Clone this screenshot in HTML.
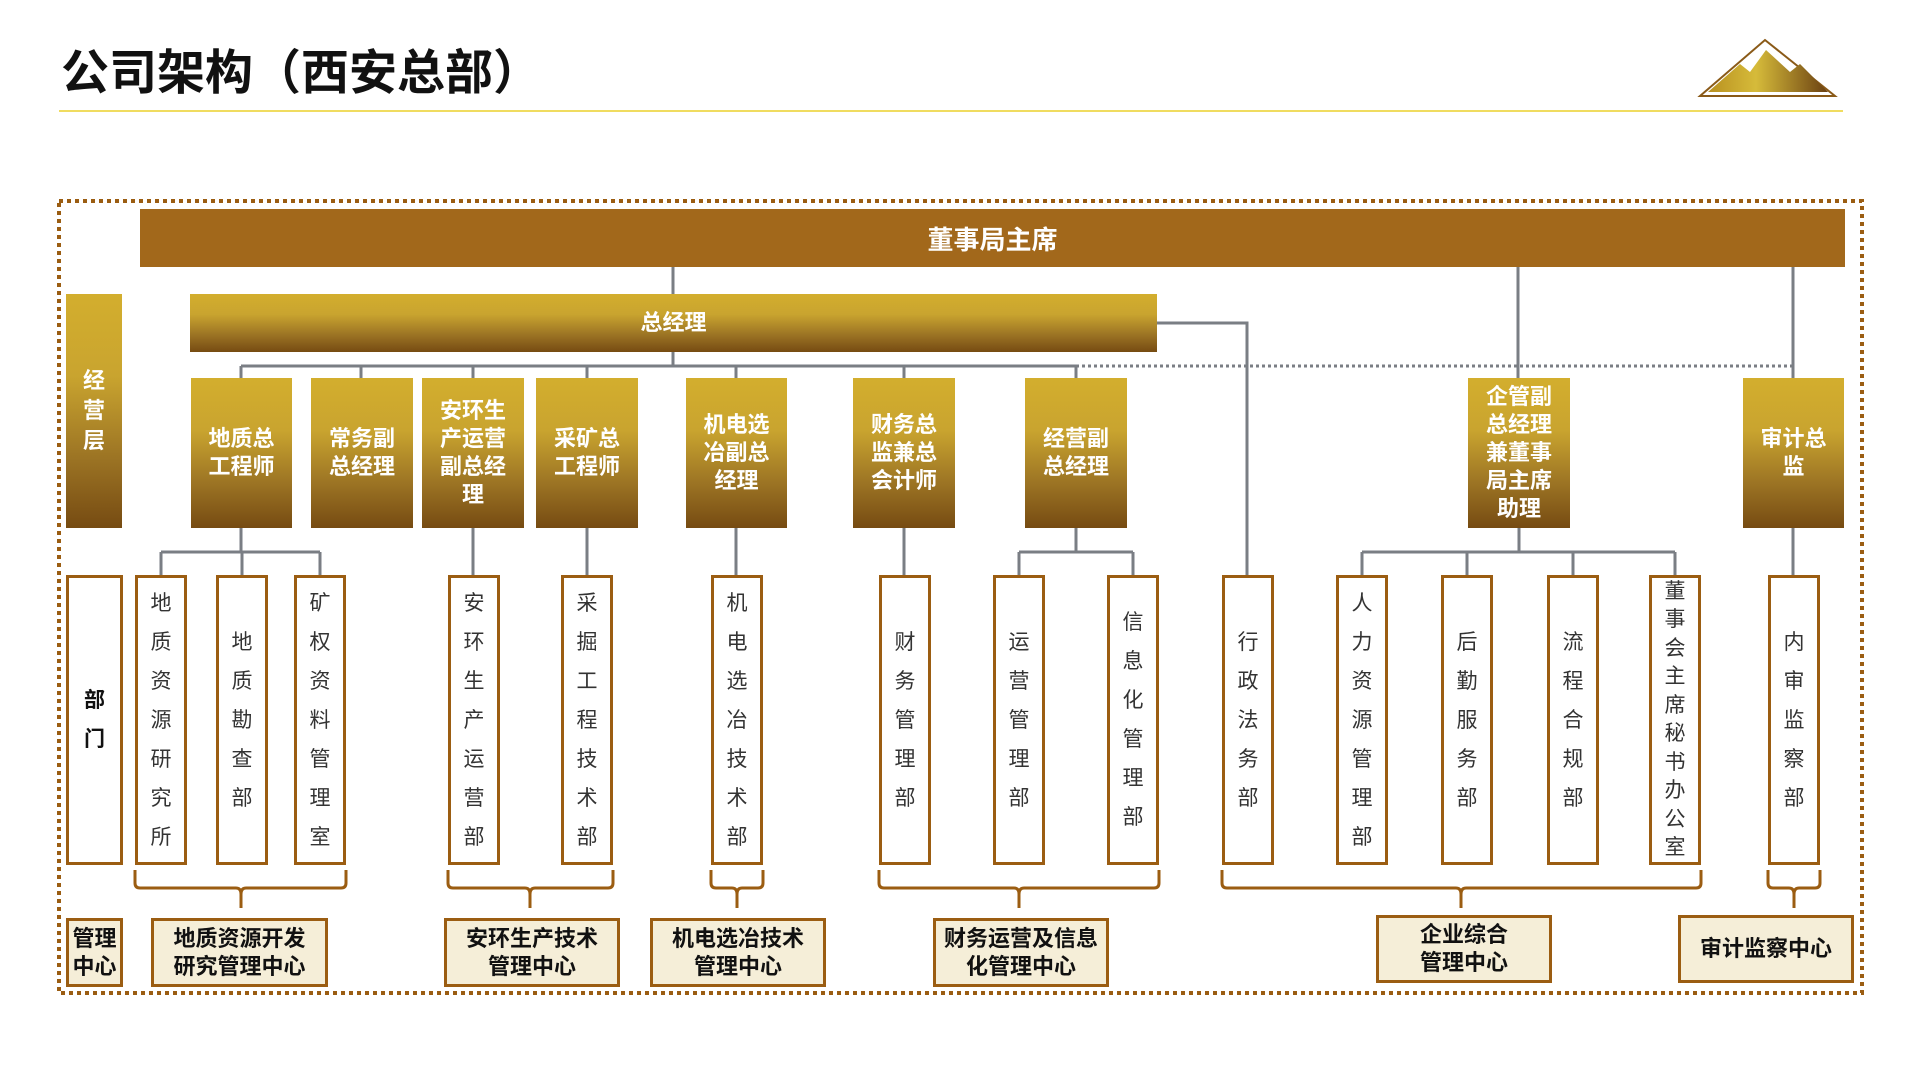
<!DOCTYPE html>
<html><head><meta charset="utf-8">
<style>
*{margin:0;padding:0;box-sizing:border-box}
body{width:1920px;height:1080px;background:#fff;position:relative;overflow:hidden;font-family:"Liberation Sans","Noto Sans CJK SC",sans-serif}
.a{position:absolute}
.g{position:absolute;background:linear-gradient(#d3ae2e 0%,#c9a42f 35%,#9c7424 70%,#764b12 100%);color:#fff;display:flex;align-items:center;justify-content:center;text-align:center;font-size:22px;line-height:28px;font-weight:bold}
.v{position:absolute;top:575px;width:52px;height:290px;border:3px solid #9b5d12;background:#fff;display:flex;align-items:center;justify-content:center;text-align:center;font-size:21px;line-height:39px;color:#333}
.c{position:absolute;border:3px solid #9b5d12;background:#f5eed8;display:flex;align-items:center;justify-content:center;text-align:center;font-size:22px;line-height:28px;font-weight:bold;color:#111}
</style></head><body>
<div class="a" style="left:61px;top:44px;font-size:48px;font-weight:bold;color:#111;line-height:60px">公司架构（西安总部）</div>
<div class="a" style="left:59px;top:110px;width:1784px;height:2px;background:#f0dc60"></div>
<svg class="a" style="left:0;top:0" width="1920" height="1080">
<defs><linearGradient id="m" x1="0" x2="1"><stop offset="0" stop-color="#b89020"/><stop offset=".4" stop-color="#d6bb3a"/><stop offset="1" stop-color="#6a4012"/></linearGradient></defs>
<polygon points="1700,96 1765,40 1835,96" fill="none" stroke="#8a5a18" stroke-width="2"/>
<polygon points="1708,92 1740,64 1750,72 1766,50 1790,72 1800,64 1828,92" fill="url(#m)"/>
<rect x="59" y="201" width="1803" height="792" fill="none" stroke="#9b5d12" stroke-width="4" stroke-dasharray="4 4"/>
<g stroke="#7a7e84" stroke-width="3" fill="none">
<path d="M673 266V294M673 352V366M1157 323H1247V575M1518 266V380M1793 266V380"/>
<path d="M241 366H1076M241 366V380M361 366V380M473 366V380M587 366V380M736 366V380M904 366V380M1076 366V380"/>
<path d="M1076 366H1793" stroke-dasharray="3 3" stroke-width="3"/>
<path d="M241 528V552M161 552H320M161 552V575M242 552V575M320 552V575"/>
<path d="M473 528V575M587 528V575M736 528V575M904 528V575"/>
<path d="M1076 528V552M1019 552H1133M1019 552V575M1133 552V575"/>
<path d="M1519 528V552M1362 552H1675M1362 552V575M1467 552V575M1573 552V575M1675 552V575"/>
<path d="M1793 528V575"/>
</g>
<g stroke="#9b5d12" stroke-width="3" fill="none">
<path d="M135 870V883Q135 888 140 888H236Q241 888 241 894V908M241 894Q241 888 246 888H341Q346 888 346 883V870"/>
<path d="M448 870V883Q448 888 453 888H525Q530 888 530 894V908M530 894Q530 888 535 888H608Q613 888 613 883V870"/>
<path d="M711 870V883Q711 888 716 888H732Q737 888 737 894V908M737 894Q737 888 742 888H758Q763 888 763 883V870"/>
<path d="M879 870V883Q879 888 884 888H1014Q1019 888 1019 894V908M1019 894Q1019 888 1024 888H1154Q1159 888 1159 883V870"/>
<path d="M1222 870V883Q1222 888 1227 888H1456Q1461 888 1461 894V908M1461 894Q1461 888 1466 888H1696Q1701 888 1701 883V870"/>
<path d="M1768 870V883Q1768 888 1773 888H1789Q1794 888 1794 894V908M1794 894Q1794 888 1799 888H1815Q1820 888 1820 883V870"/>
</g>
</svg>
<div class="a" style="left:140px;top:209px;width:1705px;height:58px;background:#a2681b;color:#fff;font-size:26px;font-weight:bold;display:flex;align-items:center;justify-content:center">董事局主席</div>
<div class="g" style="left:66px;top:294px;width:56px;height:234px;line-height:30px">经<br>营<br>层</div>
<div class="g" style="left:190px;top:294px;width:967px;height:58px">总经理</div>
<div class="g" style="left:191px;top:378px;width:101px;height:150px">地质总<br>工程师</div>
<div class="g" style="left:311px;top:378px;width:102px;height:150px">常务副<br>总经理</div>
<div class="g" style="left:422px;top:378px;width:102px;height:150px">安环生<br>产运营<br>副总经<br>理</div>
<div class="g" style="left:536px;top:378px;width:102px;height:150px">采矿总<br>工程师</div>
<div class="g" style="left:686px;top:378px;width:101px;height:150px">机电选<br>冶副总<br>经理</div>
<div class="g" style="left:853px;top:378px;width:102px;height:150px">财务总<br>监兼总<br>会计师</div>
<div class="g" style="left:1025px;top:378px;width:102px;height:150px">经营副<br>总经理</div>
<div class="g" style="left:1468px;top:378px;width:102px;height:150px">企管副<br>总经理<br>兼董事<br>局主席<br>助理</div>
<div class="g" style="left:1743px;top:378px;width:101px;height:150px">审计总<br>监</div>

<div class="v" style="left:66px;width:57px;font-weight:bold;color:#111">部<br>门</div>
<div class="v" style="left:135px">地<br>质<br>资<br>源<br>研<br>究<br>所</div>
<div class="v" style="left:216px">地<br>质<br>勘<br>查<br>部</div>
<div class="v" style="left:294px">矿<br>权<br>资<br>料<br>管<br>理<br>室</div>
<div class="v" style="left:448px">安<br>环<br>生<br>产<br>运<br>营<br>部</div>
<div class="v" style="left:561px">采<br>掘<br>工<br>程<br>技<br>术<br>部</div>
<div class="v" style="left:711px">机<br>电<br>选<br>冶<br>技<br>术<br>部</div>
<div class="v" style="left:879px">财<br>务<br>管<br>理<br>部</div>
<div class="v" style="left:993px">运<br>营<br>管<br>理<br>部</div>
<div class="v" style="left:1107px">信<br>息<br>化<br>管<br>理<br>部</div>
<div class="v" style="left:1222px">行<br>政<br>法<br>务<br>部</div>
<div class="v" style="left:1336px">人<br>力<br>资<br>源<br>管<br>理<br>部</div>
<div class="v" style="left:1441px">后<br>勤<br>服<br>务<br>部</div>
<div class="v" style="left:1547px">流<br>程<br>合<br>规<br>部</div>
<div class="v" style="left:1649px;line-height:28.5px">董<br>事<br>会<br>主<br>席<br>秘<br>书<br>办<br>公<br>室</div>
<div class="v" style="left:1768px">内<br>审<br>监<br>察<br>部</div>

<div class="c" style="left:66px;top:918px;width:57px;height:69px">管理<br>中心</div>
<div class="c" style="left:151px;top:918px;width:177px;height:69px">地质资源开发<br>研究管理中心</div>
<div class="c" style="left:444px;top:918px;width:176px;height:69px">安环生产技术<br>管理中心</div>
<div class="c" style="left:650px;top:918px;width:176px;height:69px">机电选冶技术<br>管理中心</div>
<div class="c" style="left:933px;top:918px;width:176px;height:69px">财务运营及信息<br>化管理中心</div>
<div class="c" style="left:1376px;top:915px;width:176px;height:68px">企业综合<br>管理中心</div>
<div class="c" style="left:1678px;top:915px;width:176px;height:68px">审计监察中心</div>
</body></html>
